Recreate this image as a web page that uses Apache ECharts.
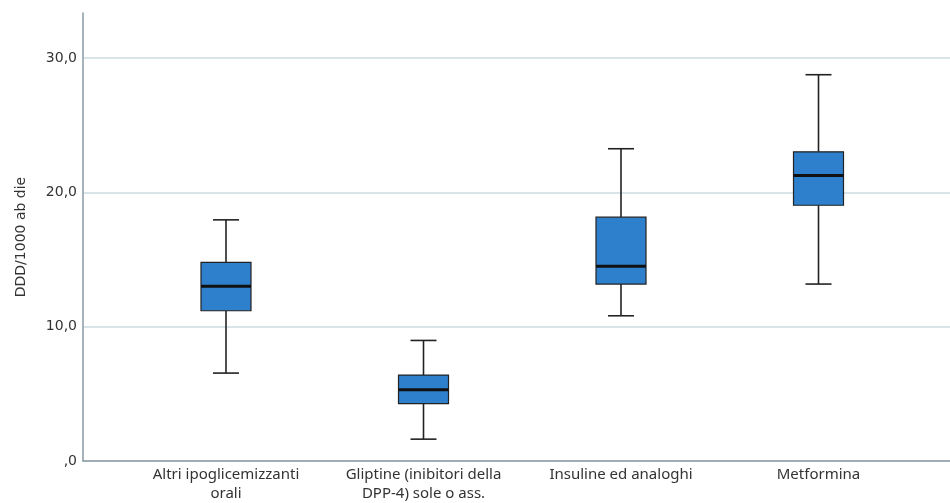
<!DOCTYPE html>
<html>
<head>
<meta charset="utf-8">
<script src="https://cdn.jsdelivr.net/npm/echarts@6/dist/echarts.min.js"></script>
<style>html,body{margin:0;padding:0;background:#fff;}#c{width:950px;height:503px;}</style>
</head>
<body>
<div id="c"></div>
<script>
const categories = ['Altri ipoglicemizzanti\norali', 'Gliptine (inibitori della\nDPP-4) sole o ass.', 'Insuline ed analoghi', 'Metformina'];
const whiskerLow = [6.25, 1.27, 10.57, 12.96];
const q1 = [10.95, 3.95, 12.96, 18.9];
const median = [12.8, 4.99, 14.3, 21.15];
const q3 = [14.6, 6.1, 18.0, 22.93];
const whiskerHigh = [17.8, 8.71, 23.16, 28.74];
const yTicks = [0, 10, 20, 30];

const data = categories.map((c, i) => [i, whiskerLow[i], q1[i], median[i], q3[i], whiskerHigh[i]]);

const chart = echarts.init(document.getElementById('c'), null, {renderer: 'canvas'});
const lineCol = '#222222';
chart.setOption({
  animation: false,
  grid: [
    {left: 83, right: 0, top: 13, bottom: 42},
    {left: 83, right: 0, top: 58, bottom: 42},
    {left: 127.25, right: 32.75, top: 58, bottom: 42}
  ],
  xAxis: [
    {gridIndex: 0, type: 'value', min: 0, max: 1, axisLine: {show: true, lineStyle: {color: '#8a9aa4', width: 1.5}}, axisTick: {show: false}, axisLabel: {show: false}, splitLine: {show: false}},
    {gridIndex: 1, type: 'value', show: false},
    {gridIndex: 2, type: 'category', data: categories, boundaryGap: true,
     axisLine: {show: false}, axisTick: {show: false}, splitLine: {show: false},
     axisLabel: {interval: 0, margin: 9, color: '#333333', fontFamily: 'Noto Sans', fontSize: 15, lineHeight: 19}}
  ],
  yAxis: [
    {gridIndex: 0, type: 'value', min: 0, max: 1, name: 'DDD/1000 ab die', nameLocation: 'middle', nameGap: 55, nameRotate: 90,
     nameTextStyle: {color: '#333333', fontFamily: 'DejaVu Sans', fontSize: 14},
     axisLine: {show: true, lineStyle: {color: '#8a9aa4', width: 1.5}}, axisTick: {show: false}, axisLabel: {show: false}, splitLine: {show: false}},
    {gridIndex: 1, type: 'value', min: yTicks[0], max: yTicks[yTicks.length - 1], interval: 10,
     axisLine: {show: false}, axisTick: {show: false},
     axisLabel: {margin: 6, color: '#333333', fontFamily: 'DejaVu Sans', fontSize: 14,
       formatter: v => v === 0 ? ',0' : v.toFixed(1).replace('.', ',')},
     splitLine: {show: true, lineStyle: {color: '#cddbe2', width: 1.5}}},
    {gridIndex: 2, type: 'value', min: yTicks[0], max: yTicks[yTicks.length - 1], show: false}
  ],
  series: [{
    type: 'custom',
    xAxisIndex: 2,
    yAxisIndex: 2,
    data: data,
    encode: {x: 0, y: [1, 2, 3, 4, 5]},
    renderItem: function (params, api) {
      const x = api.value(0);
      const pLow = api.coord([x, api.value(1)]);
      const pQ1 = api.coord([x, api.value(2)]);
      const pMed = api.coord([x, api.value(3)]);
      const pQ3 = api.coord([x, api.value(4)]);
      const pHigh = api.coord([x, api.value(5)]);
      const bw = 50, cw = 26;
      const cx = pLow[0];
      const ls = {stroke: lineCol, lineWidth: 1.6};
      return {
        type: 'group',
        children: [
          {type: 'line', shape: {x1: cx, y1: pHigh[1], x2: cx, y2: pQ3[1]}, style: ls},
          {type: 'line', shape: {x1: cx, y1: pQ1[1], x2: cx, y2: pLow[1]}, style: ls},
          {type: 'line', shape: {x1: cx - cw / 2, y1: pHigh[1], x2: cx + cw / 2, y2: pHigh[1]}, style: ls},
          {type: 'line', shape: {x1: cx - cw / 2, y1: pLow[1], x2: cx + cw / 2, y2: pLow[1]}, style: ls},
          {type: 'rect', shape: {x: cx - bw / 2, y: pQ3[1], width: bw, height: pQ1[1] - pQ3[1]}, style: {fill: '#2f80cc', stroke: lineCol, lineWidth: 1.2}},
          {type: 'line', shape: {x1: cx - bw / 2, y1: pMed[1], x2: cx + bw / 2, y2: pMed[1]}, style: {stroke: '#111111', lineWidth: 3}}
        ]
      };
    }
  }]
});
</script>
</body>
</html>
